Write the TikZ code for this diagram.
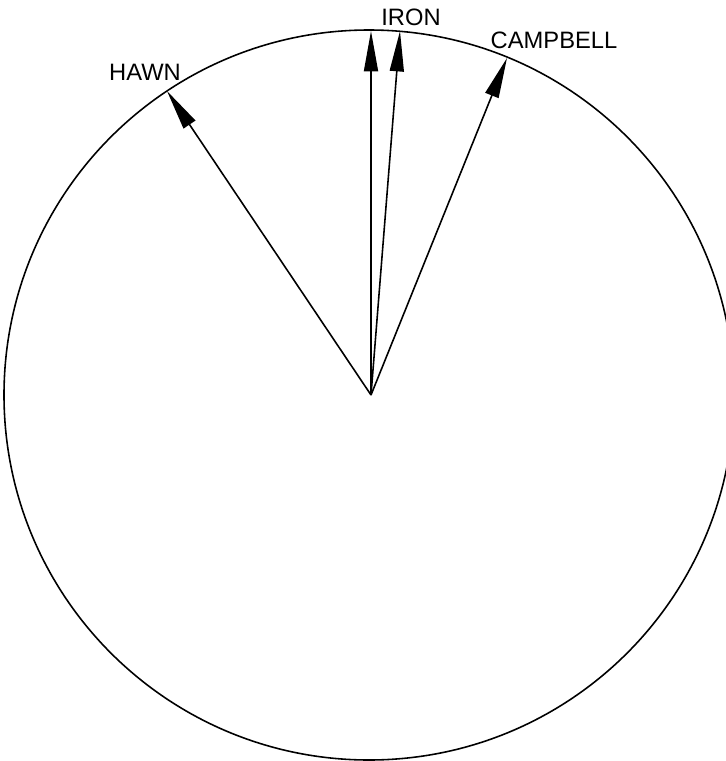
\documentclass[tikz,border=0pt]{standalone}
\usepackage{fontspec}
\setmainfont{Liberation Sans}
\usetikzlibrary{arrows.meta}

\tikzset{
  dirarrow/.style={-{Triangle[length=23pt,width=8pt]}},
  dirlabel/.style={font=\fontsize{13.5}{14}\selectfont, inner sep=0pt}
}

\begin{document}
\begin{tikzpicture}[x=0.02cm, y=-0.02cm, line width=0.9pt]
  \useasboundingbox (0,0) rectangle (726,761);
  \begin{scope}
  \clip (0,0) rectangle (726,761);
  % outline
  \draw (369,395) circle[radius=365*0.02cm];
  \end{scope}
  % directions
  \coordinate (o) at (371,395);
  \coordinate (north) at (371,31);
  \coordinate (iron) at (400,31);
  \coordinate (campbell) at (507,58);
  \coordinate (hawn) at (167,91);
  \draw[dirarrow] (o) -- (north);
  \draw[dirarrow] (o) -- (iron);
  \draw[dirarrow] (o) -- (campbell);
  \draw[dirarrow] (o) -- (hawn);
  % names
  \node[dirlabel] (ironlbl) at (411,17) {IRON};
  \node[dirlabel] (campbelllbl) at (554,40) {CAMPBELL};
  \node[dirlabel] (hawnlbl) at (145,72) {HAWN};
\end{tikzpicture}
\end{document}
